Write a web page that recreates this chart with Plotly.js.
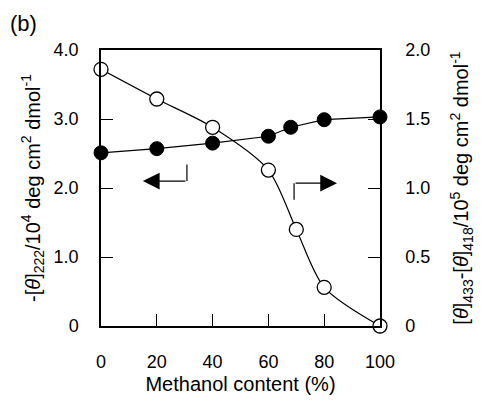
<!DOCTYPE html>
<html>
<head>
<meta charset="utf-8">
<script src="https://cdn.plot.ly/plotly-3.0.1.min.js"></script>
<style>html,body{margin:0;padding:0;background:#fff;}#chart{width:490px;height:403px;}</style>
</head>
<body>
<div id="chart"></div>
<script>
// Methanol content (%)
const methanolFilled = [0, 20, 40, 60, 68, 80, 100];
// -[θ]222 / 10^4 (left axis)
const theta222 = [2.51, 2.57, 2.65, 2.75, 2.88, 2.99, 3.03];
const methanolOpen = [0, 20, 40, 60, 70, 80, 100];
// [θ]433-[θ]418 / 10^5 (right axis)
const thetaDiff = [1.86, 1.645, 1.44, 1.13, 0.70, 0.28, 0.0];

const xTicks = [0, 20, 40, 60, 80, 100];
const xTickText = ["0", "20", "40", "60", "80", "100"];
const yTicks = [0, 1, 2, 3, 4];
const yTickText = ["0", "1.0", "2.0", "3.0", "4.0"];
const y2Ticks = [0, 0.5, 1.0, 1.5, 2.0];
const y2TickText = ["0", "0.5", "1.0", "1.5", "2.0"];

const FONT = "Liberation Sans, Arial, Helvetica, sans-serif";

const traces = [
  {
    x: methanolFilled, y: theta222, yaxis: "y", type: "scatter", mode: "lines+markers",
    line: {color: "#000", width: 1.2},
    marker: {symbol: "circle", size: 14, color: "#000", line: {color: "#000", width: 1}},
    cliponaxis: false, showlegend: false
  },
  {
    x: methanolOpen, y: thetaDiff, yaxis: "y2", type: "scatter", mode: "lines+markers",
    line: {color: "#000", width: 1.2, shape: "spline", smoothing: 0.8},
    marker: {symbol: "circle", size: 14, color: "#fff", line: {color: "#000", width: 1.3}},
    cliponaxis: false, showlegend: false
  }
];

const layout = {
  width: 490, height: 403,
  margin: {l: 101, r: 110, t: 50, b: 77},
  paper_bgcolor: "#fff", plot_bgcolor: "#fff",
  font: {family: FONT, size: 18, color: "#000"},
  xaxis: {
    range: [0, 100], tickvals: xTicks, ticktext: xTickText,
    ticks: "inside", ticklen: 12, tickwidth: 1.2, tickcolor: "#000",
    showline: true, linecolor: "#000", linewidth: 1.5, mirror: true,
    showgrid: false, zeroline: false, ticklabelstandoff: 19,
    tickfont: {size: 18},
    title: {text: "Methanol content (%)", font: {size: 20}, standoff: 6}
  },
  yaxis: {
    range: [0, 4], tickvals: yTicks, ticktext: yTickText,
    ticks: "inside", ticklen: 12, tickwidth: 1.2, tickcolor: "#000",
    showline: true, linecolor: "#000", linewidth: 1.5,
    showgrid: false, zeroline: false, ticklabelstandoff: 17,
    tickfont: {size: 18},
    title: {text: "-[<i>θ</i>]<sub>222</sub>/10<sup>4</sup> deg cm<sup>2</sup> dmol<sup>-1</sup>", font: {size: 20}, standoff: 8}
  },
  yaxis2: {
    range: [0, 2], overlaying: "y", side: "right", tickvals: y2Ticks, ticktext: y2TickText,
    ticks: "inside", ticklen: 12, tickwidth: 1.2, tickcolor: "#000",
    showline: true, linecolor: "#000", linewidth: 1.5,
    showgrid: false, zeroline: false, ticklabelstandoff: 20,
    tickfont: {size: 18},
    title: {text: "[<i>θ</i>]<sub>433</sub>-[<i>θ</i>]<sub>418</sub>/10<sup>5</sup> deg cm<sup>2</sup> dmol<sup>-1</sup>", font: {size: 20}, standoff: 25}
  },
  shapes: [
    {type: "line", xref: "x", yref: "y", x0: 30.8, x1: 30.8, y0: 2.10, y1: 2.34, line: {color: "#000", width: 1.2}},
    {type: "line", xref: "x", yref: "y", x0: 69.2, x1: 69.2, y0: 2.07, y1: 1.83, line: {color: "#000", width: 1.2}}
  ],
  annotations: [
    {xref: "x", yref: "y", axref: "x", ayref: "y", x: 15, y: 2.10, ax: 30.8, ay: 2.10, text: "",
     showarrow: true, arrowhead: 2, arrowsize: 2.8, arrowwidth: 1.2, arrowcolor: "#000"},
    {xref: "x", yref: "y", axref: "x", ayref: "y", x: 84.6, y: 2.07, ax: 69.2, ay: 2.07, text: "",
     showarrow: true, arrowhead: 2, arrowsize: 2.8, arrowwidth: 1.2, arrowcolor: "#000"},
    {xref: "paper", yref: "paper", x: -0.335, y: 1.045, xanchor: "left", yanchor: "bottom",
     text: "(b)", showarrow: false, font: {size: 22}}
  ]
};

Plotly.newPlot("chart", traces, layout, {displayModeBar: false});
</script>
</body>
</html>
